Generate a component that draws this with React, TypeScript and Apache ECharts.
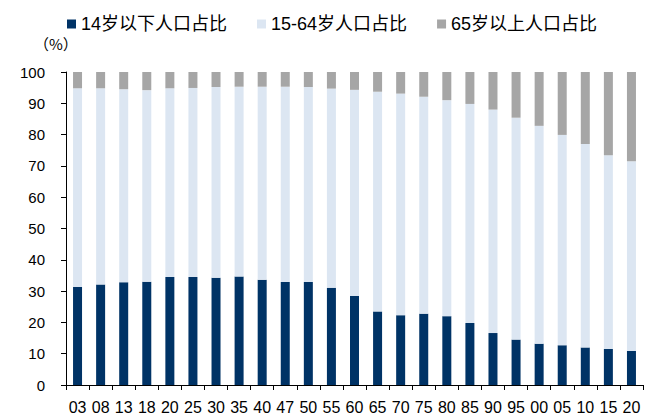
import React, { useEffect, useRef } from "react";
import * as echarts from "echarts";

const categories = ["03","08","13","18","20","25","30","35","40","47","50","55","60","65","70","75","80","85","90","95","00","05","10","15","20"];
const under14 = [31.3, 32.1, 32.8, 33.0, 34.5, 34.5, 34.3, 34.7, 33.6, 32.9, 32.9, 31.1, 28.4, 23.5, 22.3, 22.8, 22.0, 19.8, 16.6, 14.5, 13.2, 12.7, 12.0, 11.5, 10.9];
const age15to64 = [63.5, 62.7, 61.7, 61.2, 60.3, 60.4, 60.9, 60.6, 61.7, 62.4, 62.3, 63.6, 65.9, 70.2, 70.8, 69.3, 69.0, 70.0, 71.4, 70.9, 69.6, 67.2, 65.0, 61.9, 60.6];
const over65 = [5.2, 5.2, 5.5, 5.8, 5.2, 5.1, 4.8, 4.7, 4.7, 4.7, 4.8, 5.3, 5.7, 6.3, 6.9, 7.9, 9.0, 10.2, 12.0, 14.6, 17.2, 20.1, 23.0, 26.6, 28.5];
const seriesNames = ["14岁以下人口占比", "15-64岁人口占比", "65岁以上人口占比"];
const colors = ["#003366", "#DCE6F2", "#A6A6A6"];

const FONT = "'Liberation Sans', Arial, 'Noto Sans CJK SC', sans-serif";

export default function App() {
  const ref = useRef<HTMLDivElement>(null);
  useEffect(() => {
    document.body.style.margin = "0";
    const chart = echarts.init(ref.current!, null, { renderer: "svg" });
    const values = [under14, age15to64, over65];
    chart.setOption({
      animation: false,
      backgroundColor: "#fff",
      textStyle: { fontFamily: FONT },
      legend: {
        top: 10,
        left: 62,
        itemWidth: 9,
        itemHeight: 9,
        itemGap: 30,
        icon: "rect",
        textStyle: { fontSize: 18, color: "#000", fontFamily: FONT },
        data: seriesNames,
      },
      graphic: [
        {
          type: "text",
          left: 34,
          top: 36,
          style: { text: "（%）", fontSize: 15, fill: "#000", fontFamily: "'Noto Sans CJK SC', sans-serif" },
        },
      ],
      grid: { left: 66, right: 11, top: 72, bottom: 31, containLabel: false },
      xAxis: {
        type: "category",
        data: categories,
        boundaryGap: true,
        axisLine: { lineStyle: { color: "#000", width: 1 } },
        axisTick: { show: true, length: 5, lineStyle: { color: "#000" } },
        axisLabel: { fontSize: 16, color: "#000", margin: 14, interval: 0, fontFamily: FONT },
      },
      yAxis: {
        type: "value",
        min: 0,
        max: 100,
        interval: 10,
        axisLine: { show: true, lineStyle: { color: "#000", width: 1 } },
        axisTick: { show: true, length: 5, lineStyle: { color: "#000" } },
        axisLabel: { fontSize: 15, color: "#000", margin: 21, fontFamily: FONT },
        splitLine: { show: false },
      },
      series: seriesNames.map((name, i) => ({
        name,
        type: "bar",
        stack: "total",
        barWidth: 9,
        data: values[i],
        itemStyle: { color: colors[i] },
      })),
    });
    return () => chart.dispose();
  }, []);
  return <div ref={ref} style={{ width: 654, height: 416 }} />;
}
